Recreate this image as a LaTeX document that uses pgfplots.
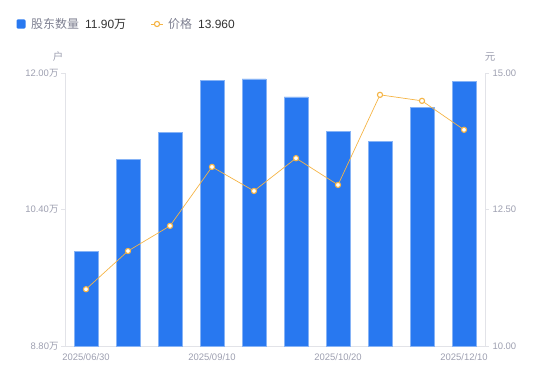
\documentclass[border=0pt]{standalone}
\usepackage{pgfplots}
\pgfplotsset{compat=1.18}
\usepackage{fontspec}
\setmainfont{Liberation Sans}
\newfontfamily\cjk{Noto Sans CJK SC}
\definecolor{barblue}{HTML}{2878F0}
\definecolor{baredge}{HTML}{86B3F6}
\definecolor{lineorange}{HTML}{F5B445}
\definecolor{axisgray}{HTML}{E2E3E8}
\definecolor{labelgray}{HTML}{9D9FB0}
\definecolor{legendgray}{HTML}{7E8091}
\definecolor{darktext}{HTML}{333333}
\begin{document}
\begin{tikzpicture}[x=1bp,y=1bp]
\useasboundingbox (0,0) rectangle (550,381);
\begin{axis}[at={(65bp,35bp)}, anchor=south west, scale only axis,
  width=420bp, height=273bp,
  xmin=-0.5, xmax=9.5, ymin=8.8, ymax=12.0,
  axis x line*=bottom, axis y line*=left,
  axis line style={draw=axisgray, line width=0.7pt},
  ybar, bar width=24bp,
  xtick={0,3,6,9},
  xticklabels={2025/06/30,2025/09/10,2025/10/20,2025/12/10},
  ytick={8.8,10.4,12.0},
  yticklabels={8.80{\cjk 万},10.40{\cjk 万},12.00{\cjk 万}},
  tick align=outside, major tick length=4bp,
  x tick style={draw=none},
  y tick style={draw=axisgray, line width=0.7pt},
  tick label style={font=\fontsize{9.5}{11}\selectfont, text=labelgray},
  yticklabel style={xshift=1bp},
]
\addplot[fill=barblue, draw=baredge, line width=0.5pt] coordinates {
(0,9.91) (1,10.99) (2,11.30) (3,11.91) (4,11.93) (5,11.72) (6,11.32) (7,11.20) (8,11.60) (9,11.90)};
\end{axis}
\begin{axis}[at={(65bp,35bp)}, anchor=south west, scale only axis,
  width=420bp, height=273bp,
  xmin=-0.5, xmax=9.5, ymin=10, ymax=15,
  axis x line=none, axis y line*=right,
  axis line style={draw=axisgray, line width=0.7pt},
  ytick={10,12.5,15},
  yticklabels={10.00,12.50,15.00},
  tick align=outside, major tick length=4bp,
  y tick style={draw=axisgray, line width=0.7pt},
  tick label style={font=\fontsize{9.5}{11}\selectfont, text=labelgray},
  clip=false,
]
\addplot[color=lineorange, line width=0.7pt, mark=*, mark size=2.6pt,
  mark options={fill=white, draw=lineorange, line width=1.1pt}] coordinates {
(0,11.04) (1,11.74) (2,12.20) (3,13.28) (4,12.84) (5,13.44) (6,12.95) (7,14.60) (8,14.49) (9,13.96)};
\end{axis}
% units
\node[text=labelgray, font=\cjk\fontsize{10.5}{12}\selectfont] at (58,324) {户};
\node[text=labelgray, font=\cjk\fontsize{10.5}{12}\selectfont] at (490,324) {元};
% legend
\fill[barblue, rounded corners=1.2bp] (16.5,352.5) rectangle (25.5,361.5);
\node[anchor=west, inner sep=0, text=legendgray, font=\cjk\fontsize{12}{14}\selectfont] at (31,357) {股东数量};
\node[anchor=west, inner sep=0, text=darktext, font=\fontsize{12}{14}\selectfont] at (85,357) {11.90{\cjk 万}};
\draw[lineorange, line width=0.9pt] (151,357) -- (163,357);
\draw[lineorange, fill=white, line width=1.1pt] (157,357) circle (2.6);
\node[anchor=west, inner sep=0, text=legendgray, font=\cjk\fontsize{12}{14}\selectfont] at (168,357) {价格};
\node[anchor=west, inner sep=0, text=darktext, font=\fontsize{12}{14}\selectfont] at (198,357) {13.960};
\end{tikzpicture}
\end{document}
